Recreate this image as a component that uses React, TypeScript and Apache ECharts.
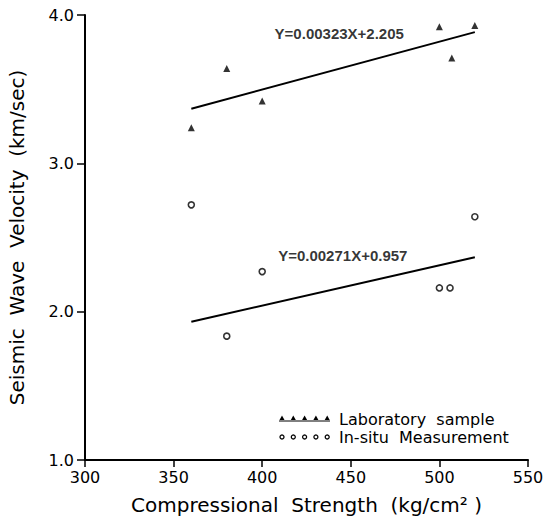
import React, { useEffect, useRef } from "react";
import * as echarts from "echarts";

const labX = [360, 380, 400, 500, 507, 520];
const labY = [3.24, 3.64, 3.42, 3.92, 3.71, 3.93];
const situX = [360, 380, 400, 500, 506, 520];
const situY = [2.72, 1.835, 2.27, 2.16, 2.16, 2.64];
const labFit = { slope: 0.00323, intercept: 2.205, label: "Y=0.00323X+2.205", at: [407, 3.875] };
const situFit = { slope: 0.00271, intercept: 0.957, label: "Y=0.00271X+0.957", at: [409, 2.38] };
const fitRange = [360, 520];
const legendItems = ["Laboratory  sample", "In-situ  Measurement"];

const AXIS_FONT = "DejaVu Sans";

function fitLine(f: { slope: number; intercept: number }) {
  return fitRange.map((x) => [x, f.slope * x + f.intercept]);
}

export default function App() {
  const ref = useRef<HTMLDivElement>(null);
  useEffect(() => {
    if (!ref.current) return;
    const chart = echarts.init(ref.current, undefined, { renderer: "svg" });
    const annot = (f: any) => ({
      type: "scatter",
      data: [f.at],
      symbolSize: 0,
      silent: true,
      label: {
        show: true,
        position: "right",
        distance: 0,
        formatter: f.label,
        color: "#000",
        fontFamily: "Liberation Sans",
        fontWeight: "bold",
        fontSize: 15,
      },
    });
    const legendTri = [0, 1, 2, 3, 4].map((i) => ({
      type: "polygon",
      shape: { points: [[282 + i * 11.3, 415.5], [279.5 + i * 11.3, 420], [284.5 + i * 11.3, 420]] },
      style: { fill: "#000" },
    }));
    const legendCirc = [0, 1, 2, 3, 4].map((i) => ({
      type: "circle",
      shape: { cx: 282 + i * 11.3, cy: 437, r: 2 },
      style: { fill: "#fff", stroke: "#000", lineWidth: 1.3 },
    }));
    chart.setOption({
      animation: false,
      backgroundColor: "#fff",
      grid: { left: 85, right: 15, top: 15, bottom: 59, outerBoundsMode: "none", containLabel: false },
      xAxis: {
        type: "value",
        min: 300,
        max: 550,
        interval: 50,
        name: "Compressional  Strength  (kg/cm² )",
        nameLocation: "middle",
        nameGap: 35,
        nameTextStyle: { fontFamily: AXIS_FONT, fontSize: 20, color: "#000" },
        axisLine: { lineStyle: { color: "#000", width: 2 } },
        axisTick: { show: true, length: 7, lineStyle: { color: "#000", width: 1.5 } },
        axisLabel: { fontFamily: AXIS_FONT, fontSize: 16, color: "#000", margin: 9 },
        splitLine: { show: false },
      },
      yAxis: {
        type: "value",
        min: 1,
        max: 4,
        interval: 1,
        name: "Seismic  Wave  Velocity  (km/sec)",
        nameLocation: "middle",
        nameGap: 58,
        nameTextStyle: { fontFamily: AXIS_FONT, fontSize: 20, color: "#000" },
        axisLine: { lineStyle: { color: "#000", width: 2 } },
        axisTick: { show: true, length: 8, lineStyle: { color: "#000", width: 1.5 } },
        axisLabel: {
          fontFamily: AXIS_FONT,
          fontSize: 16,
          color: "#000",
          margin: 11,
          formatter: (v: number) => v.toFixed(1),
        },
        splitLine: { show: false },
      },
      series: [
        {
          type: "scatter",
          name: "Laboratory sample",
          data: labX.map((x, i) => [x, labY[i]]),
          symbol: "triangle",
          symbolSize: 7,
          itemStyle: { color: "#000" },
        },
        {
          type: "scatter",
          name: "In-situ Measurement",
          data: situX.map((x, i) => [x, situY[i]]),
          symbol: "circle",
          symbolSize: 6,
          itemStyle: { color: "#fff", borderColor: "#000", borderWidth: 1.6 },
        },
        {
          type: "line",
          data: fitLine(labFit),
          symbol: "none",
          lineStyle: { color: "#000", width: 2 },
        },
        {
          type: "line",
          data: fitLine(situFit),
          symbol: "none",
          lineStyle: { color: "#000", width: 2 },
        },
        annot(labFit),
        annot(situFit),
      ],
      graphic: [
        ...legendTri,
        { type: "line", shape: { x1: 279, y1: 421, x2: 330, y2: 421 }, style: { stroke: "#000", lineWidth: 1 } },
        ...legendCirc,
        {
          type: "text",
          x: 339,
          y: 419,
          style: { text: legendItems[0], fontFamily: AXIS_FONT, fontSize: 16, fill: "#000", textVerticalAlign: "middle" },
        },
        {
          type: "text",
          x: 339,
          y: 437,
          style: { text: legendItems[1], fontFamily: AXIS_FONT, fontSize: 16, fill: "#000", textVerticalAlign: "middle" },
        },
      ],
    });
    return () => chart.dispose();
  }, []);
  return <div ref={ref} style={{ width: 543, height: 519, position: "absolute", left: 0, top: 0 }} />;
}
